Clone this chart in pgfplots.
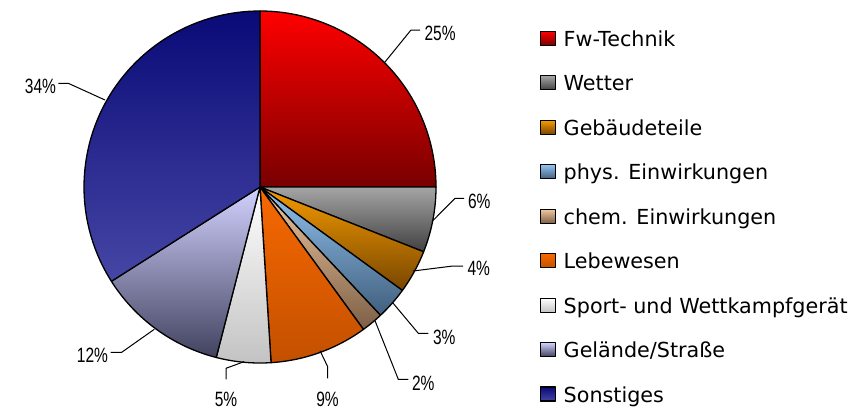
\documentclass[border=0pt]{standalone}
\usepackage{pgfplots}
\pgfplotsset{compat=1.18}
\usepackage{fontspec}
\setmainfont{DejaVu Sans}
\newfontfamily\pctfont[FakeStretch=0.75]{Liberation Sans}

\definecolor{fwT}{RGB}{255,0,0}       \definecolor{fwB}{RGB}{120,0,0}
\definecolor{weT}{RGB}{165,165,165}   \definecolor{weB}{RGB}{65,65,65}
\definecolor{geT}{RGB}{245,155,0}     \definecolor{geB}{RGB}{120,70,0}
\definecolor{phT}{RGB}{145,195,240}   \definecolor{phB}{RGB}{65,95,125}
\definecolor{chT}{RGB}{240,200,160}   \definecolor{chB}{RGB}{125,95,70}
\definecolor{leT}{RGB}{248,105,0}     \definecolor{leB}{RGB}{195,80,0}
\definecolor{spT}{RGB}{255,255,255}   \definecolor{spB}{RGB}{195,195,195}
\definecolor{glT}{RGB}{210,210,255}   \definecolor{glB}{RGB}{65,65,95}
\definecolor{soT}{RGB}{10,10,120}     \definecolor{soB}{RGB}{70,70,165}

% \slice{cumulative start %}{value %}{top colour}{bottom colour}{legend}
\newcommand\slice[5]{%
  \addplot[draw=black, line width=1.3bp, line join=round,
    top color=#3, bottom color=#4,
    domain=90-3.6*#1:90-3.6*(#1+#2), samples=80]
    ({cos(x)},{sin(x)}) -- (0,0) -- cycle;
  \addlegendentry{#5}}

\tikzset{pct/.style={inner sep=0pt, font={\pctfont\fontsize{20.7bp}{24bp}\selectfont}}}

\begin{document}
\begin{tikzpicture}
\useasboundingbox (0bp,0bp) rectangle (868bp,-410bp);
\begin{axis}[
    at={(260bp,-187bp)}, anchor=center,
    width=352bp, height=352bp, scale only axis,
    hide axis, clip=false,
    xmin=-1, xmax=1, ymin=-1, ymax=1,
    legend image code/.code={\draw[#1, line width=1.2bp] (0bp,-4bp) rectangle (14.5bp,10bp);},
    legend cell align=left,
    legend style={draw=none, fill=none, inner sep=0pt, outer sep=0pt,
      at={(1.2955,0.9437)}, anchor=north west,
      font=\fontsize{20.7bp}{24bp}\selectfont,
      row sep=23.85bp, column sep=8bp,
      nodes={inner sep=0pt, text height=15bp, text depth=5bp}},
  ]
  \slice{0}{25}{fwT}{fwB}{Fw-Technik}
  \slice{25}{6}{weT}{weB}{Wetter}
  \slice{31}{4}{geT}{geB}{Gebäudeteile}
  \slice{35}{3}{phT}{phB}{phys. Einwirkungen}
  \slice{38}{2}{chT}{chB}{chem. Einwirkungen}
  \slice{40}{9}{leT}{leB}{Lebewesen}
  \slice{49}{5}{spT}{spB}{Sport- und Wettkampfgerät}
  \slice{54}{12}{glT}{glB}{Gelände/Straße}
  \slice{66}{34}{soT}{soB}{Sonstiges}
\end{axis}
\begin{scope}[x=1bp, y=-1bp, line width=1bp]
  \draw (385,62) -- (411,30) -- (420,30);
  \node[pct, anchor=base west] at (424,40.7) {25\%};
  \draw (432,221.5) -- (455,198.3) -- (464,198.3);
  \node[pct, anchor=base west] at (467.5,208) {6\%};
  \draw (413,271) -- (453,266) -- (463,266);
  \node[pct, anchor=base west] at (467,275.5) {4\%};
  \draw (392.7,302.7) -- (418.3,333.3) -- (428.3,333.3);
  \node[pct, anchor=base west] at (432.5,344) {3\%};
  \draw (375,320.7) -- (398.3,379.3) -- (408.3,379.3);
  \node[pct, anchor=base west] at (411.5,390) {2\%};
  \draw (320,350.7) -- (327.7,366.7) -- (327.7,378.3);
  \node[pct, anchor=base] at (327.5,406) {9\%};
  \draw (244,361.7) -- (226,368.3) -- (226,379.3);
  \node[pct, anchor=base] at (226,406.5) {5\%};
  \draw (154.3,329.3) -- (121.7,352.3) -- (110.7,352.3);
  \node[pct, anchor=base east] at (108.5,362.3) {12\%};
  \draw (105,100) -- (68.3,83.3) -- (58.3,83.3);
  \node[pct, anchor=base east] at (56.5,93.3) {34\%};
\end{scope}
\end{tikzpicture}
\end{document}
